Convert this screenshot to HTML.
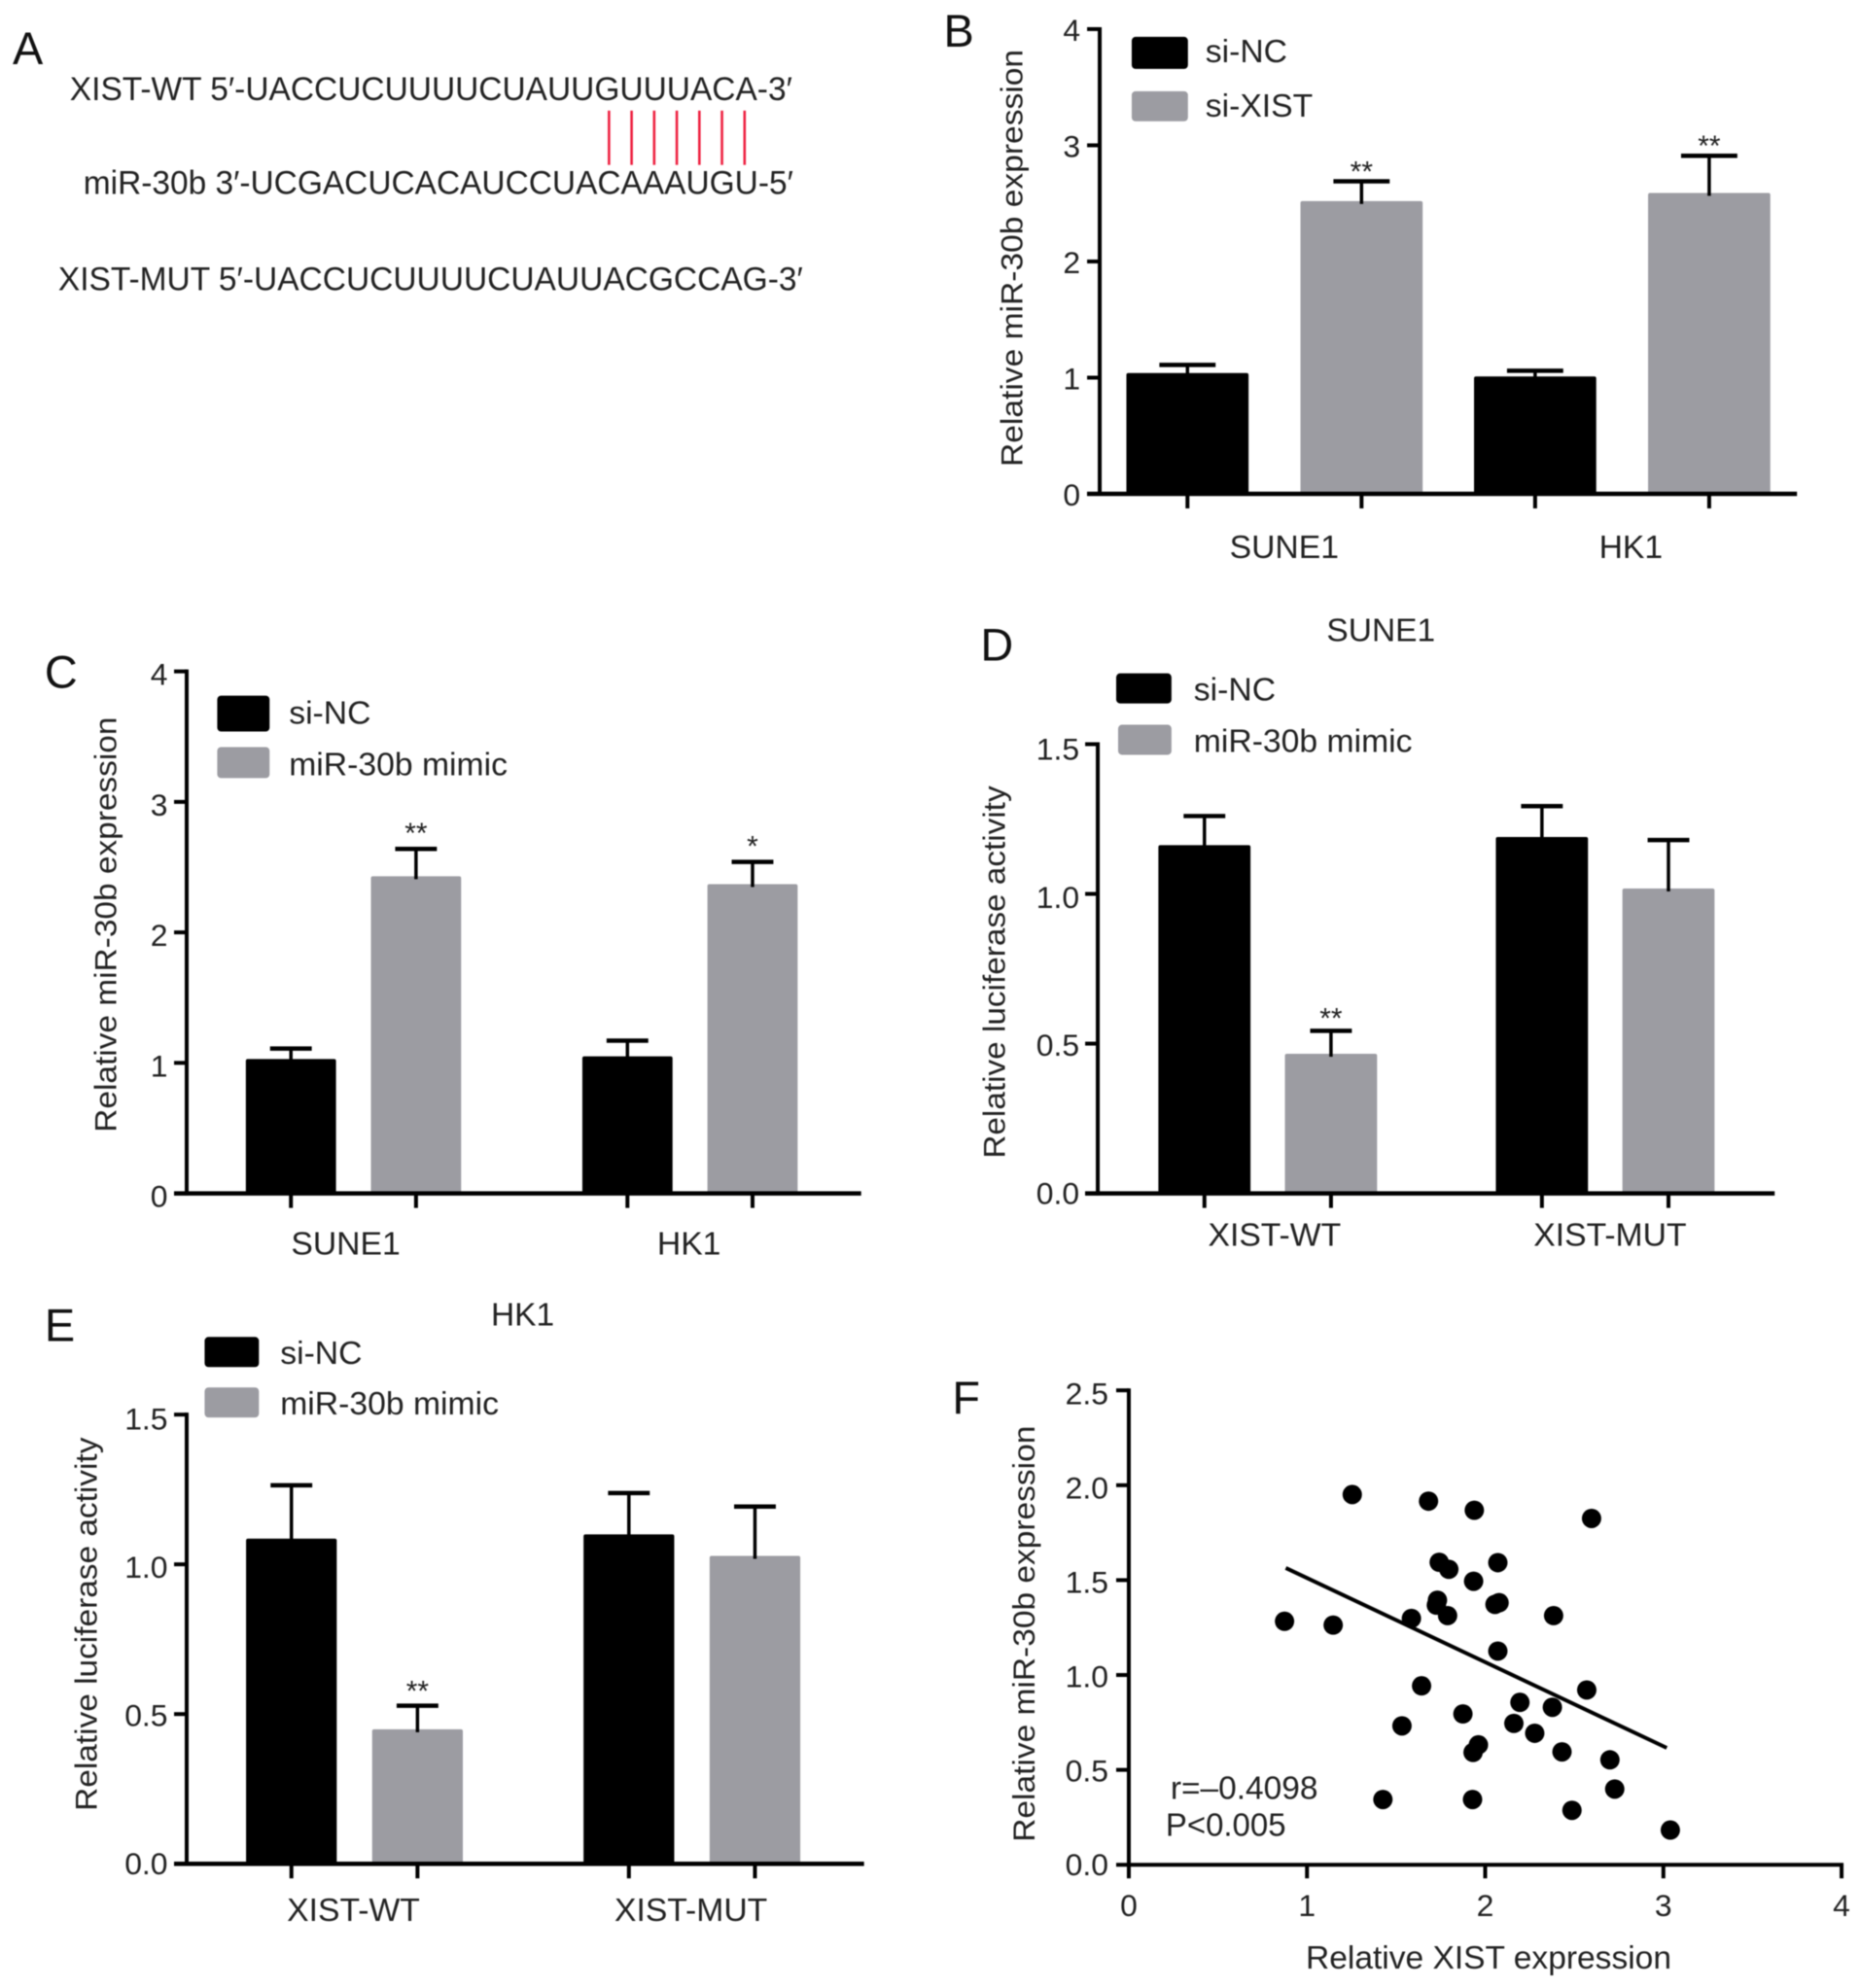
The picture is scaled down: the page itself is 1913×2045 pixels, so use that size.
<!DOCTYPE html>
<html lang="en">
<head>
<meta charset="utf-8">
<title>XIST and miR-30b figure</title>
<style>
html,body{margin:0;padding:0;background:#fff;}
svg{display:block;filter:blur(0.55px);}
text{font-family:"Liberation Sans",Arial,sans-serif;fill:#222;}
.letter{font-size:47px;fill:#111;}
.seq{font-size:34px;}
</style>
</head>
<body>
<svg id="figure" xmlns="http://www.w3.org/2000/svg" width="1913" height="2045" viewBox="0 0 1918 2049" preserveAspectRatio="none">
  <rect x="0" y="0" width="1918" height="2049" fill="#fff"/>
  <text class="letter" x="13" y="66">A</text>
  <text class="letter" x="973" y="48">B</text>
  <text class="letter" x="46" y="709">C</text>
  <text class="letter" x="1011" y="681">D</text>
  <text class="letter" x="46" y="1382">E</text>
  <text class="letter" x="982" y="1457">F</text>
  <text class="seq" x="72" y="103" textLength="745" lengthAdjust="spacingAndGlyphs">XIST-WT 5′-UACCUCUUUUCUAUUGUUUACA-3′</text>
  <text class="seq" x="86" y="200" textLength="732" lengthAdjust="spacingAndGlyphs">miR-30b 3′-UCGACUCACAUCCUACAAAUGU-5′</text>
  <text class="seq" x="60" y="299" textLength="768" lengthAdjust="spacingAndGlyphs">XIST-MUT 5′-UACCUCUUUUCUAUUACGCCAG-3′</text>
  <g id="pairing"></g>
  <g id="panel-b"></g>
  <g id="panel-c"></g>
  <g id="panel-d"></g>
  <g id="panel-e"></g>
  <g id="panel-f"></g>
</svg>
<script>
// Panel B
const panelBCategories = ['SUNE1', 'HK1'];
const panelBControl = [1.04, 1.01];
const panelBControlErr = [0.07, 0.05];
const panelBTreated = [2.52, 2.59];
const panelBTreatedErr = [0.17, 0.32];
const panelBStars = ['**', '**'];
const panelBTicks = [0, 1, 2, 3, 4];
const panelBTickLabels = ['0', '1', '2', '3', '4'];
const panelBLegend = ['si-NC', 'si-XIST'];
// Panel C
const panelCCategories = ['SUNE1', 'HK1'];
const panelCControl = [1.03, 1.05];
const panelCControlErr = [0.08, 0.12];
const panelCTreated = [2.43, 2.37];
const panelCTreatedErr = [0.21, 0.17];
const panelCStars = ['**', '*'];
const panelCTicks = [0, 1, 2, 3, 4];
const panelCTickLabels = ['0', '1', '2', '3', '4'];
const panelCLegend = ['si-NC', 'miR-30b mimic'];
// Panel D
const panelDCategories = ['XIST-WT', 'XIST-MUT'];
const panelDControl = [1.163, 1.19];
const panelDControlErr = [0.097, 0.103];
const panelDTreated = [0.466, 1.018];
const panelDTreatedErr = [0.077, 0.162];
const panelDStars = ['**', ''];
const panelDTicks = [0, 0.5, 1, 1.5];
const panelDTickLabels = ['0.0', '0.5', '1.0', '1.5'];
const panelDLegend = ['si-NC', 'miR-30b mimic'];
// Panel E
const panelECategories = ['XIST-WT', 'XIST-MUT'];
const panelEControl = [1.086, 1.10];
const panelEControlErr = [0.178, 0.138];
const panelETreated = [0.449, 1.028];
const panelETreatedErr = [0.079, 0.165];
const panelEStars = ['**', ''];
const panelETicks = [0, 0.5, 1, 1.5];
const panelETickLabels = ['0.0', '0.5', '1.0', '1.5'];
const panelELegend = ['si-NC', 'miR-30b mimic'];
// Panel F
const panelFXValues = [1.254,1.682,1.939,2.597,1.742,1.796,2.071,1.935,1.732,1.726,2.078,2.055,1.586,1.789,2.384,0.874,1.147,2.071,1.643,2.570,2.195,2.377,1.875,1.533,2.161,2.278,1.962,1.932,2.431,2.700,2.727,1.426,1.929,2.487,3.039];
const panelFYValues = [1.951,1.916,1.868,1.825,1.594,1.557,1.592,1.494,1.394,1.368,1.381,1.372,1.298,1.313,1.313,1.283,1.263,1.126,0.943,0.921,0.856,0.830,0.795,0.732,0.745,0.693,0.632,0.592,0.595,0.553,0.399,0.344,0.344,0.287,0.183];
const panelFFitX = [0.881, 3.019];
const panelFFitY = [1.564, 0.616];
const panelFXTicks = [0, 1, 2, 3, 4];
const panelFXTickLabels = ['0', '1', '2', '3', '4'];
const panelFYTicks = [0, 0.5, 1, 1.5, 2, 2.5];
const panelFYTickLabels = ['0.0', '0.5', '1.0', '1.5', '2.0', '2.5'];
// Panel A pairing: number of paired bases
const pairedBaseCount = 7;

const NS = 'http://www.w3.org/2000/svg';
const BLACK = '#000';
const GRAY = '#9c9ca2';

function mk(parent, tag, props, text) {
  const el = document.createElementNS(NS, tag);
  for (const k in props) el.setAttribute(k, props[k]);
  if (text !== undefined) el.textContent = text;
  parent.appendChild(el);
  return el;
}

function drawAxisLine(g, x1, y1, x2, y2, w, name) {
  const el = mk(g, 'line', {x1, y1, x2, y2, stroke: '#000', 'stroke-width': w});
  
  
  return el;
}

function drawLabel(g, props, str, name) {
  const el = mk(g, 'text', props, str);
  
  
  return el;
}

function drawYAxis(g, o, yScale, ticks, labels) {
  const top = ticks[ticks.length - 1];
  drawAxisLine(g, o.axisX, yScale(top) - 2, o.axisX, o.y0 + 2, 4, 'y-axis-line');
  ticks.forEach(function (t, i) {
    const y = yScale(t);
    drawAxisLine(g, o.axisX - 13, y, o.axisX, y, 4, 'y-axis-tick');
    const drift = (o.labelShift || 0) + (o.labelDrift || 0) * t / top;
    drawLabel(g, {x: o.tickLabelX, y: y + 11 + drift, 'font-size': 32, 'text-anchor': 'end'}, labels[i], 'y-tick-label');
  });
}

function drawYTitle(g, str, o) {
  const el = drawLabel(g, {
    x: 0, y: 0, 'font-size': 32, 'text-anchor': 'middle',
    transform: 'translate(' + o.x + ',' + o.y + ') rotate(-90)',
    textLength: o.len, lengthAdjust: 'spacingAndGlyphs'
  }, str, 'y-axis-title');
  return el;
}

function drawBarChart(g, d, o) {
  const yMax = d.ticks[d.ticks.length - 1];
  const yScale = function (v) { return o.y0 - v * (o.y0 - o.yTop) / yMax; };
  const centerOf = function (group, series) { return o.firstCenter + group * o.groupStep + series * o.seriesStep; };

  drawYAxis(g, o, yScale, d.ticks, d.tickLabels);
  d.categories.forEach(function (cat, i) {
    [[d.control, d.controlErr, BLACK, 'control'], [d.treated, d.treatedErr, GRAY, 'treated']].forEach(function (s, si) {
      const c = centerOf(i, si);
      const top = yScale(s[0][i]);
      const errTop = yScale(s[0][i] + s[1][i]);
      const bar = mk(g, 'rect', {x: c - o.barW / 2, y: top, width: o.barW, height: o.y0 - top, rx: 2, fill: s[2]});
      
      
      drawAxisLine(g, c + o.errDx, errTop, c + o.errDx, top + 3, 3.5, 'error-bar-stem');
      drawAxisLine(g, c + o.errDx - o.capW / 2, errTop, c + o.errDx + o.capW / 2, errTop, 4.5, 'error-bar-cap');
      drawAxisLine(g, c, o.y0, c, o.y0 + 15, 4, 'x-axis-tick');
      if (si === 1 && d.stars[i]) {
        drawLabel(g, {x: c + o.errDx, y: errTop - o.starGap + 17, 'font-size': 30, 'text-anchor': 'middle'}, d.stars[i], 'significance-marker');
      }
    });
    const mid = centerOf(i, 0.5) + o.labelDx[i];
    drawLabel(g, {x: mid, y: o.labelY, 'font-size': 33.8, 'text-anchor': 'middle'}, cat, 'x-category-label');
  });
  drawAxisLine(g, o.axisX - 13, o.y0, o.axisEnd, o.y0, 4.5, 'x-axis-line');
  drawYTitle(g, d.yTitle, o.title);

  d.legend.forEach(function (name, i) {
    const l = o.legend[i];
    const sw = mk(g, 'rect', {x: l.x, y: l.y, width: l.w, height: l.h, rx: 4, fill: i === 0 ? BLACK : GRAY});
    
    
    drawLabel(g, {x: o.legendTextX, y: l.base, 'font-size': 33.8}, name, 'legend-entry');
  });
  if (o.chartTitle) {
    drawLabel(g, {x: o.chartTitle.x, y: o.chartTitle.y, 'font-size': 33.6, 'text-anchor': 'middle'}, d.chartTitle, 'chart-title');
  }
}

// Panel A pairing lines
(function () {
  const g = document.getElementById('pairing');
  for (let i = 0; i < pairedBaseCount; i++) {
    const x = 628 + i * 23.3;
    const el = mk(g, 'line', {x1: x, y1: 114, x2: x, y2: 170, stroke: '#ee2040', 'stroke-width': 2.6});
    
    
  }
})();

drawBarChart(document.getElementById('panel-b'), {
  categories: panelBCategories, control: panelBControl, controlErr: panelBControlErr,
  treated: panelBTreated, treatedErr: panelBTreatedErr, stars: panelBStars,
  ticks: panelBTicks, tickLabels: panelBTickLabels, legend: panelBLegend,
  yTitle: 'Relative miR-30b expression'
}, {
  axisX: 1134, axisEnd: 1853, y0: 509, yTop: 30, tickLabelX: 1114, labelShift: 1,
  firstCenter: 1224.5, groupStep: 358.5, seriesStep: 179.5, barW: 126, capW: 58, errDx: 0, starGap: 17,
  labelDx: [10, 9], labelY: 575,
  title: {x: 1054, y: 266, len: 430},
  legend: [{x: 1167, y: 38, w: 58, h: 33, base: 64}, {x: 1167, y: 94, w: 58, h: 31, base: 120}],
  legendTextX: 1243
});

drawBarChart(document.getElementById('panel-c'), {
  categories: panelCCategories, control: panelCControl, controlErr: panelCControlErr,
  treated: panelCTreated, treatedErr: panelCTreatedErr, stars: panelCStars,
  ticks: panelCTicks, tickLabels: panelCTickLabels, legend: panelCLegend,
  yTitle: 'Relative miR-30b expression'
}, {
  axisX: 192.5, axisEnd: 888, y0: 1230, yTop: 692, tickLabelX: 173, labelShift: 3,
  firstCenter: 300, groupStep: 347, seriesStep: 129, barW: 93, capW: 43, errDx: 0, starGap: 23,
  labelDx: [-8, -1], labelY: 1293,
  title: {x: 120, y: 953, len: 428},
  legend: [{x: 224, y: 717, w: 54, h: 37, base: 746}, {x: 224, y: 770, w: 54, h: 32, base: 799}],
  legendTextX: 298
});

drawBarChart(document.getElementById('panel-d'), {
  categories: panelDCategories, control: panelDControl, controlErr: panelDControlErr,
  treated: panelDTreated, treatedErr: panelDTreatedErr, stars: panelDStars,
  ticks: panelDTicks, tickLabels: panelDTickLabels, legend: panelDLegend,
  yTitle: 'Relative luciferase activity', chartTitle: 'SUNE1'
}, {
  axisX: 1132, axisEnd: 1830, y0: 1230, yTop: 767, tickLabelX: 1113, labelDrift: 5,
  firstCenter: 1242, groupStep: 348, seriesStep: 130.5, barW: 95, capW: 43, errDx: 0, starGap: 20,
  labelDx: [7, 5], labelY: 1284,
  title: {x: 1036, y: 1002, len: 384},
  legend: [{x: 1151, y: 694, w: 57, h: 31, base: 722}, {x: 1153, y: 747, w: 55, h: 31, base: 775}],
  legendTextX: 1231, chartTitle: {x: 1424, y: 661}
});

drawBarChart(document.getElementById('panel-e'), {
  categories: panelECategories, control: panelEControl, controlErr: panelEControlErr,
  treated: panelETreated, treatedErr: panelETreatedErr, stars: panelEStars,
  ticks: panelETicks, tickLabels: panelETickLabels, legend: panelELegend,
  yTitle: 'Relative luciferase activity', chartTitle: 'HK1'
}, {
  axisX: 192.5, axisEnd: 891, y0: 1921, yTop: 1458, tickLabelX: 173, labelDrift: 4.5,
  firstCenter: 300.5, groupStep: 348, seriesStep: 130, barW: 93.5, capW: 43, errDx: 0, starGap: 22,
  labelDx: [-1, -1], labelY: 1980,
  title: {x: 100, y: 1674, len: 385},
  legend: [{x: 211, y: 1378, w: 56, h: 31, base: 1406}, {x: 211, y: 1430, w: 56, h: 31, base: 1458}],
  legendTextX: 289, chartTitle: {x: 539, y: 1366}
});

// Panel F scatter
(function () {
  const g = document.getElementById('panel-f');
  const x0 = 1164, x1 = 1899, y0 = 1922, yTop = 1433;
  const xMax = panelFXTicks[panelFXTicks.length - 1];
  const yMax = panelFYTicks[panelFYTicks.length - 1];
  const xScale = function (v) { return x0 + v * (x1 - x0) / xMax; };
  const yScale = function (v) { return y0 - v * (y0 - yTop) / yMax; };

  drawYAxis(g, {axisX: x0, y0: y0, tickLabelX: 1143, labelDrift: 3.5}, yScale, panelFYTicks, panelFYTickLabels);
  drawAxisLine(g, x0 - 2, y0, x1 + 2, y0, 4, 'x-axis-line');
  panelFXTicks.forEach(function (t, i) {
    const x = xScale(t);
    drawAxisLine(g, x, y0, x, y0 + 14, 4, 'x-axis-tick');
    drawLabel(g, {x: x, y: 1975, 'font-size': 32, 'text-anchor': 'middle'}, panelFXTickLabels[i], 'x-tick-label');
  });
  panelFXValues.forEach(function (v, i) {
    const dot = mk(g, 'circle', {cx: xScale(v), cy: yScale(panelFYValues[i]), r: 10, fill: '#000'});
    
    
  });
  const fit = mk(g, 'line', {x1: xScale(panelFFitX[0]), y1: yScale(panelFFitY[0]), x2: xScale(panelFFitX[1]), y2: yScale(panelFFitY[1]), stroke: '#000', 'stroke-width': 4});
  
  
  drawYTitle(g, 'Relative miR-30b expression', {x: 1067, y: 1684, len: 429});
  drawLabel(g, {x: 1535, y: 2029, 'font-size': 33, 'text-anchor': 'middle', textLength: 377, lengthAdjust: 'spacingAndGlyphs'}, 'Relative XIST expression', 'x-axis-title');
  drawLabel(g, {x: 1207, y: 1854, 'font-size': 33, textLength: 152, lengthAdjust: 'spacingAndGlyphs'}, 'r=–0.4098', 'correlation-value');
  drawLabel(g, {x: 1202, y: 1892, 'font-size': 33, textLength: 124, lengthAdjust: 'spacingAndGlyphs'}, 'P<0.005', 'p-value');
})();
</script>
</body>
</html>
